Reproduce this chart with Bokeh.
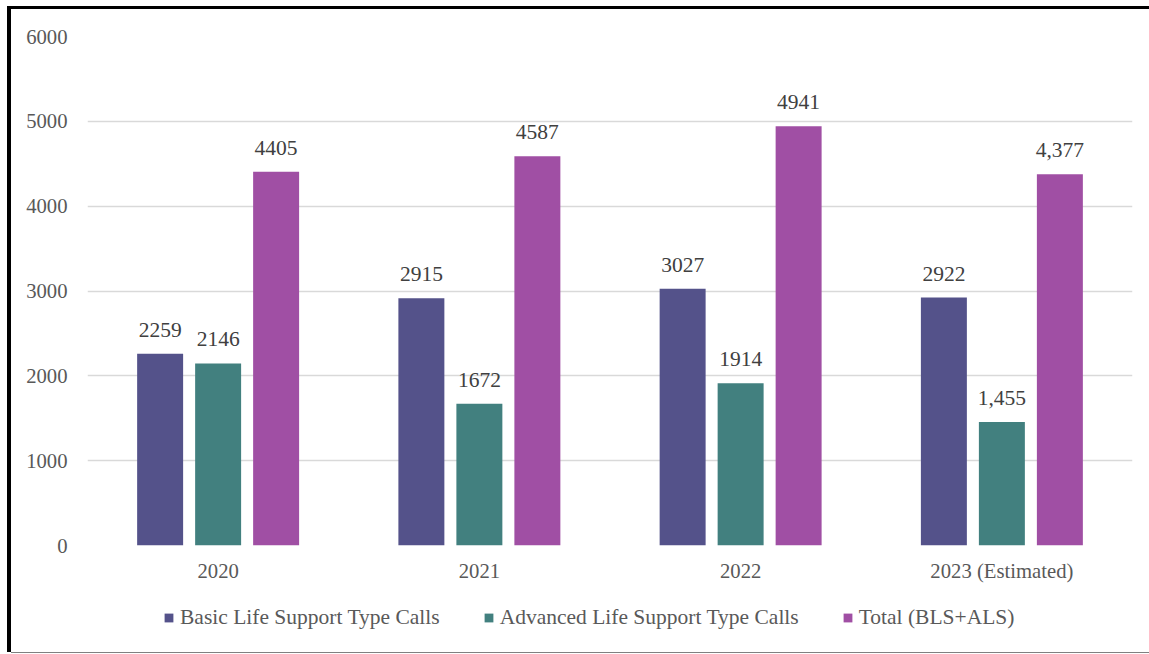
from bokeh.plotting import figure
from bokeh.layouts import column
from bokeh.models import (FactorRange, Range1d, ColumnDataSource, Legend, LegendItem,
                          FixedTicker)
from bokeh.transform import dodge
from bokeh.core.properties import value
from bokeh.embed import file_html
from bokeh.resources import INLINE

# Call volumes per year
years = ["2020", "2021", "2022", "2023 (Estimated)"]
bls_calls = [2259, 2915, 3027, 2922]
als_calls = [2146, 1672, 1914, 1455]
total_calls = [4405, 4587, 4941, 4377]
# thousands separator used in the data labels of each series
bls_comma = [False, False, False, False]
als_comma = [False, False, False, True]
total_comma = [False, False, False, True]

series_names = ["Basic Life Support Type Calls", "Advanced Life Support Type Calls", "Total (BLS+ALS)"]
y_ticks = [0, 1000, 2000, 3000, 4000, 5000, 6000]

colors = ["#54528A", "#42807F", "#A04FA4"]
FONT = "Liberation Serif"
TEXT = "#595959"


def fmt(v, comma):
    return f"{v:,}" if comma else str(v)


src = ColumnDataSource(dict(
    year=years,
    bls=bls_calls, als=als_calls, total=total_calls,
    bls_lbl=[fmt(v, c) for v, c in zip(bls_calls, bls_comma)],
    als_lbl=[fmt(v, c) for v, c in zip(als_calls, als_comma)],
    total_lbl=[fmt(v, c) for v, c in zip(total_calls, total_comma)],
))

# main chart
p = figure(
    width=1138, height=581,
    x_range=FactorRange(*years, range_padding=0),
    y_range=Range1d(0, 6000),
    output_backend="svg", toolbar_location=None,
    min_border_left=76, min_border_right=17,
    min_border_top=27, min_border_bottom=45,
)
p.outline_line_color = None
p.background_fill_color = "white"
p.border_fill_color = "white"

offset = 0.222
width = 0.176
for i, (col, lbl) in enumerate([("bls", "bls_lbl"), ("als", "als_lbl"), ("total", "total_lbl")]):
    dx = (i - 1) * offset
    p.vbar(x=dodge("year", dx, range=p.x_range), top=col, width=width,
           source=src, fill_color=colors[i], line_color=None)
    p.text(x=dodge("year", dx, range=p.x_range), y=col, text=lbl, source=src,
           text_align="center", text_baseline="alphabetic", y_offset=-24,
           text_font=value(FONT), text_font_size="21.5px", text_color="#404040")

p.yaxis.ticker = FixedTicker(ticks=y_ticks)
for ax in (p.xaxis[0], p.yaxis[0]):
    ax.axis_line_color = None
    ax.major_tick_line_color = None
    ax.minor_tick_line_color = None
    ax.major_label_text_font = FONT
    ax.major_label_text_font_size = "20.7px"
    ax.major_label_text_color = TEXT
p.yaxis.major_label_standoff = 14
p.xaxis.major_label_standoff = 8

p.xgrid.grid_line_color = None
p.ygrid.grid_line_color = "#d9d9d9"
p.ygrid.grid_line_width = 1.5

# legend strip below the chart
lp = figure(
    width=1138, height=62,
    x_range=Range1d(0, 1), y_range=Range1d(0, 1),
    output_backend="svg", toolbar_location=None,
    min_border=0, min_border_left=0, min_border_right=0,
    min_border_top=0, min_border_bottom=0,
)
lp.axis.visible = False
lp.grid.visible = False
lp.outline_line_color = None
lp.border_fill_color = "white"

# swatch renderers sit outside the visible range; only their legend glyphs show
hidden = ColumnDataSource(dict(x=[-10.0], top=[-10.0]))
swatches = [lp.vbar(x="x", top="top", width=0.1, source=hidden, fill_color=c, line_color=None)
            for c in colors]

legend = Legend(
    items=[LegendItem(label=n, renderers=[r]) for n, r in zip(series_names, swatches)],
    orientation="horizontal",
    location=(76, 22),
    glyph_width=11, glyph_height=11,
    label_standoff=6, spacing=43, padding=0, margin=0,
    label_text_font=FONT, label_text_font_size="21.5px", label_text_color=TEXT,
    label_height=20,
    border_line_color=None, background_fill_alpha=0,
)
lp.add_layout(legend, "center")

page = column(
    p, lp, spacing=0,
    styles={
        "margin-left": "11px", "margin-top": "9px",
        # page frame: thick black left/top edges, thin grey bottom edge
        "box-shadow": "-4px 0 0 0 #000, 0 -3px 0 0 #000, -4px -3px 0 0 #000, 0 1px 0 0 #808080",
    },
)

open("out.html", "w").write(file_html(page, INLINE))
